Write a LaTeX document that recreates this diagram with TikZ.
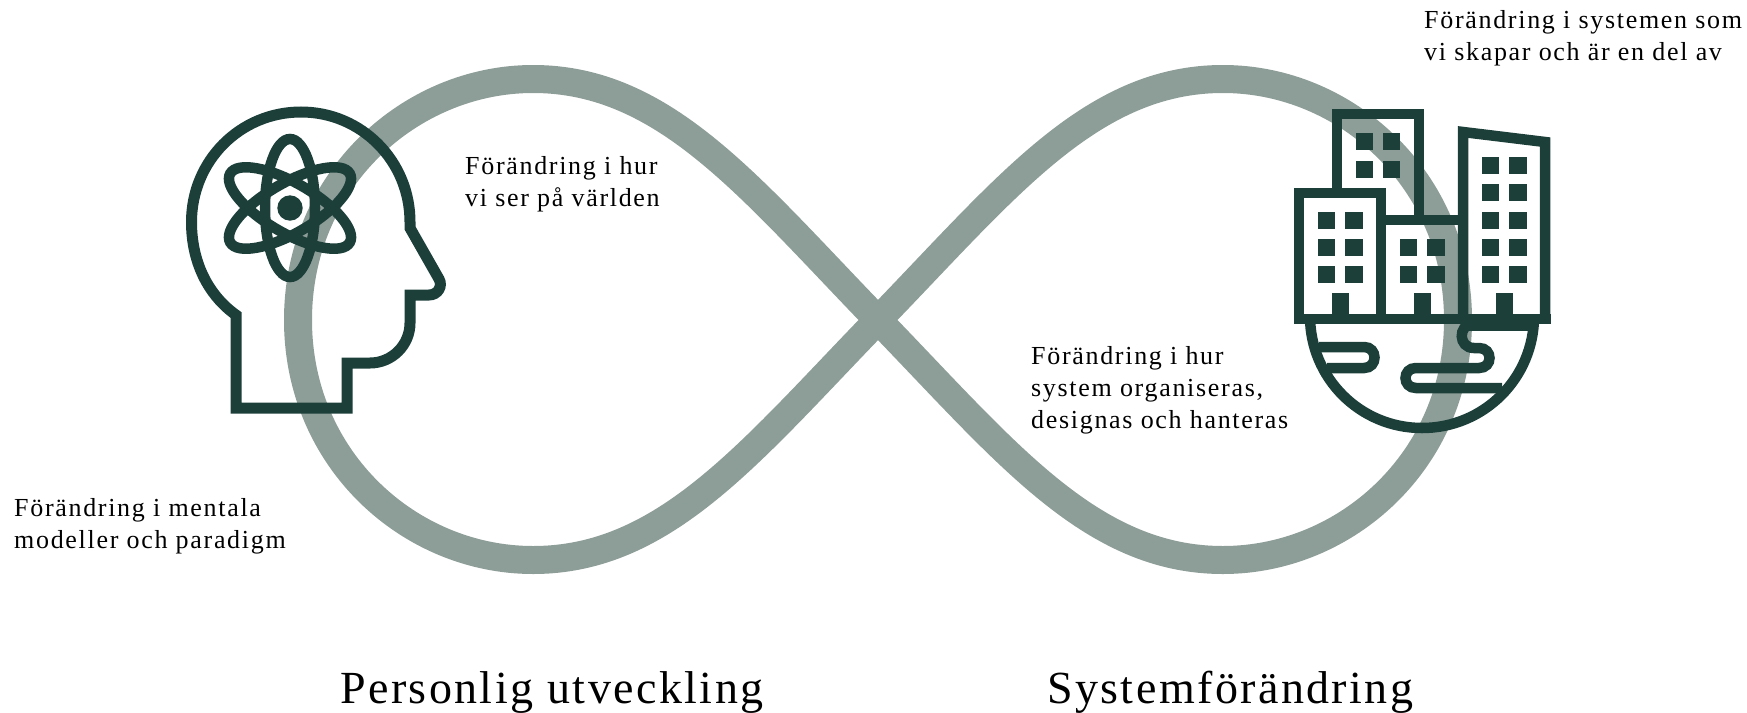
\documentclass[tikz,border=0pt]{standalone}
\usepackage{fontspec}
\setmainfont{Liberation Serif}
\newfontfamily\smallfam[LetterSpace=6.5]{Liberation Serif}
\newfontfamily\bigfam[LetterSpace=5.3]{Liberation Serif}
\definecolor{band}{HTML}{8D9D98}
\definecolor{ink}{HTML}{1C3F3A}
\tikzset{
  bandline/.style={draw=band,line width=28pt},
  icon/.style={draw=ink,line width=10.5pt,miter limit=10},
  headline/.style={draw=ink,line width=11pt,miter limit=10},
  orbit/.style={draw=ink,line width=10.5pt},
  win/.style={fill=ink,draw=none},
  small/.style={font=\smallfam\fontsize{26}{32}\selectfont,align=left,inner sep=0pt,anchor=north west,text=black},
  big/.style={font=\bigfam\fontsize{46}{56}\selectfont,inner sep=0pt,anchor=base west,text=black}
}
\newcommand{\winbox}[2]{\fill[win] (#1,#2) rectangle +(17.3,17);}
\begin{document}
\begin{tikzpicture}[x=1pt,y=-1pt]
\useasboundingbox (0,0) rectangle (1747,712);
% infinity band
\draw[bandline] (878,320)
  .. controls (750,188) and (665,79) .. (533,79)
  .. controls (410,79) and (298,180) .. (298,320)
  .. controls (298,460) and (410,560) .. (533,560)
  .. controls (665,560) and (750,452) .. (878,320)
  .. controls (1006,188) and (1091,79) .. (1223,79)
  .. controls (1346,79) and (1458,180) .. (1458,320)
  .. controls (1458,460) and (1346,560) .. (1223,560)
  .. controls (1091,560) and (1006,452) .. (878,320) -- cycle;
% head
\draw[headline] (236,408) -- (347,408) -- (347,363) -- (370,363)
  .. controls (392,363) and (410,345) .. (410,323) -- (410,295) -- (429,295)
  .. controls (438,295) and (443,286) .. (439,279)
  -- (410,228) -- (410,222)
  .. controls (410,161.3) and (361.7,112) .. (301,112)
  .. controls (239.7,112) and (191.5,161.3) .. (191.5,222)
  .. controls (191.5,262) and (208,295) .. (236,315) -- cycle;
% atom
\draw[orbit] (290,208) ellipse [x radius=25pt,y radius=69pt];
\draw[orbit,rotate around={60:(290,208)}] (290,208) ellipse [x radius=25pt,y radius=69pt];
\draw[orbit,rotate around={-60:(290,208)}] (290,208) ellipse [x radius=25pt,y radius=69pt];
\fill[ink] (290,208) circle [radius=12.7pt];
% buildings
\draw[icon] (1337,193) -- (1337,114) -- (1419,114) -- (1419,220);
\draw[icon] (1299,319) -- (1299,193) -- (1381,193) -- (1381,319);
\draw[icon] (1381,220) -- (1463,220);
\draw[icon] (1463,319) -- (1463,132) -- (1545,142) -- (1545,319);
\draw[icon] (1294,319) -- (1551,319);
\fill[ink] (1464,319) rectangle (1532,331);
% windows
\winbox{1356}{133}\winbox{1383}{133}\winbox{1356}{160.5}\winbox{1383}{160.5}
\foreach \y in {211.5,239,266.3}{\winbox{1318}{\y}\winbox{1345.3}{\y}}
\foreach \y in {239,266.3}{\winbox{1400}{\y}\winbox{1427.3}{\y}}
\foreach \y in {157,184.3,211.5,239,266.3}{\winbox{1482}{\y}\winbox{1509.3}{\y}}
\fill[ink] (1331.7,293.3) rectangle (1349,319);
\fill[ink] (1413.7,293.3) rectangle (1431,319);
\fill[ink] (1496,293.3) rectangle (1513,319);
% bowl and streams
\draw[icon] (1310,319) -- (1310,316) .. controls (1310,378) and (1360,428) .. (1422,428)
  .. controls (1484,428) and (1534,378) .. (1534,316) -- (1534,319);
\draw[icon] (1319,347) -- (1364,347) .. controls (1378,347) and (1378,368) .. (1364,368) -- (1327,368);
\draw[icon] (1472,324) .. controls (1458,325) and (1458,348) .. (1474,348) -- (1479,348)
  .. controls (1493,348) and (1493,368) .. (1479,368) -- (1416,368)
  .. controls (1402,368) and (1402,388) .. (1416,388) -- (1502,388);
% texts
\node[small] (t1) at (1424,10.5) {Förändring i systemen som\\vi skapar och är en del av};
\node[small] (t2) at (465,156) {Förändring i hur\\vi ser på världen};
\node[small] (t3) at (1031,346.5) {Förändring i hur\\system organiseras,\\designas och hanteras};
\node[small] (t4) at (14,498) {Förändring i mentala\\modeller och paradigm};
\node[big] (t5) at (340,703) {Personlig utveckling};
\node[big] (t6) at (1047,703) {Systemförändring};
\end{tikzpicture}
\end{document}
